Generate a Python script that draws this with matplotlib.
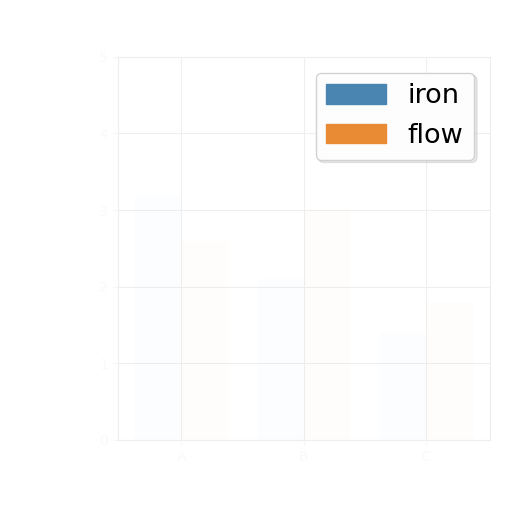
import numpy as np
import matplotlib
matplotlib.use("Agg")
import matplotlib.pyplot as plt

# the reference is almost washed out; only the legend survives clearly
categories = ["A", "B", "C"]
iron = [3.2, 2.1, 1.4]
flow = [2.6, 3.0, 1.8]
yticks = [0, 1, 2, 3, 4, 5]

fig = plt.figure(figsize=(5.12, 5.12), dpi=100)
ax = fig.add_axes([0.23, 0.141, 0.727, 0.748])

x = np.arange(len(categories))
w = 0.38
faint = 0.012
ax.bar(x - w/2, iron, w, color="#1f77b4", alpha=faint, label="iron")
ax.bar(x + w/2, flow, w, color="#ff7f0e", alpha=faint, label="flow")

ax.set_xticks(x)
ax.set_xticklabels(categories)
ax.set_yticks(yticks)
ax.set_ylim(0, 5)
ax.tick_params(colors="#f6f6f6", labelcolor="#f9f9f9", labelsize=10)
ax.grid(True, color="#efefef", linewidth=0.8)
ax.set_axisbelow(True)
for s in ax.spines.values():
    s.set_color("#eeeeee")

leg = ax.legend(loc="upper right", fontsize=19.5, handlelength=2.2,
                handleheight=0.75, shadow={"alpha": 0.12}, framealpha=0.95,
                facecolor="white", edgecolor="#d0d0d0", borderaxespad=0.58)
for h, c in zip(leg.legend_handles, ["#4a84b0", "#e98a35"]):
    h.set_alpha(1)
    h.set_color(c)

fig.savefig("out.png", dpi=100)
